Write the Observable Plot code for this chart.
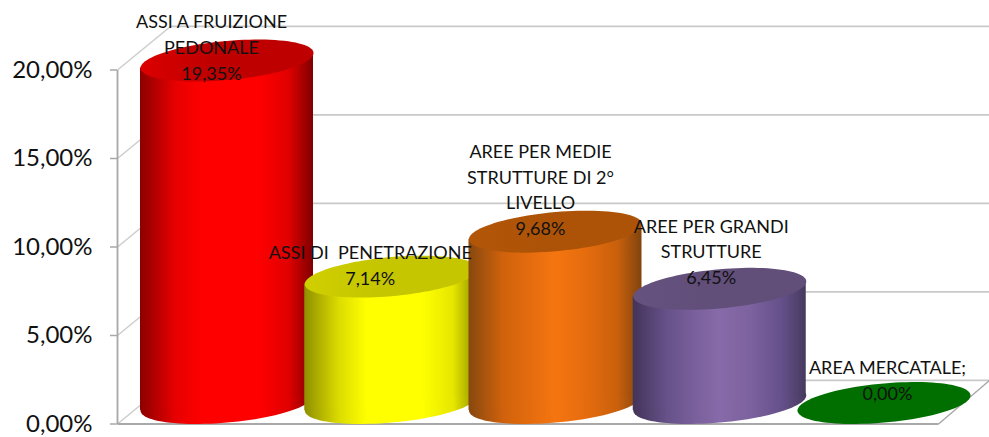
<!DOCTYPE html>
<html><head><meta charset="utf-8">
<style>html,body{margin:0;padding:0;background:#fff}svg{display:block}</style>
<script src="https://cdn.jsdelivr.net/npm/d3@7"></script>
<script src="https://cdn.jsdelivr.net/npm/@observablehq/plot@0.6"></script>
</head><body><div id="chart"></div>
<script>
// Data
const categories = ["ASSI A FRUIZIONE\nPEDONALE", "ASSI DI  PENETRAZIONE", "AREE PER MEDIE\nSTRUTTURE DI 2°\nLIVELLO", "AREE PER GRANDI\nSTRUTTURE", "AREA MERCATALE;"];
const values = [19.35, 7.14, 9.68, 6.45, 0];
const valueLabels = ["19,35%", "7,14%", "9,68%", "6,45%", "0,00%"];
const tickValues = [0, 5, 10, 15, 20];

// Styles
const bodyStops = [
  ["#8c0000", "#e60000", "#ff0000", "#ff0000", "#ff0000", "#e00000", "#7e0000"],
  ["#8f8f00", "#dcdc00", "#ffff00", "#ffff00", "#ffff00", "#e6e600", "#8f8f00"],
  ["#87480f", "#d0620c", "#e56c0e", "#f57510", "#e56c0e", "#c9600c", "#80440e"],
  ["#433459", "#67528a", "#7a609c", "#876aa9", "#7c629e", "#65508a", "#463a5e"],
  ["#006f00", "#006f00", "#006f00", "#006f00", "#006f00", "#006f00", "#006f00"]
];
const capColors = [["#dc0000", "#bf0000"], ["#cfcf00", "#c6c600"], ["#b35608", "#ad5307"], ["#66527f", "#614e79"], ["#006f00", "#006f00"]];
const stopOffsets = [0, 0.2, 0.36, 0.5, 0.68, 0.86, 1];
const labelDx = [-15.5, -21, -15, -8.5, 3.5];
const labelDy = [19, 8, 3, -5, -3];

// Layout (in scale units)
const halfWidth = 86.5 / 164.25;   // cylinder half width, x units
const tilt = 7.5 / 17.7;           // ellipse tilt expressed in y units
const baseLift = -21;              // pixels: centre of base ellipse above the front floor edge
const frontX = -0.6667, backX = -0.344, floorFrontEnd = 4.332, floorBackEnd = 4.642, depthY = 2.46;

const ellipse = {
  draw(ctx, size) {
    const rx = Math.sqrt(size / Math.PI), b = rx * 19.6 / 86.5, s = rx * 7.5 / 86.5;
    for (let i = 0; i < 96; ++i) {
      const t = i / 96 * 2 * Math.PI;
      const x = rx * Math.cos(t), y = -s * Math.cos(t) + b * Math.sin(t);
      if (i) ctx.lineTo(x, y); else ctx.moveTo(x, y);
    }
    ctx.closePath();
  }
};

const defsMark = () => {
  const defs = d3.create("svg:defs");
  bodyStops.forEach((stops, i) => {
    const g = defs.append("linearGradient").attr("id", "body" + i);
    stops.forEach((c, j) => g.append("stop").attr("offset", stopOffsets[j]).attr("stop-color", c));
    const k = defs.append("linearGradient").attr("id", "cap" + i);
    capColors[i].forEach((c, j) => k.append("stop").attr("offset", j ? 0.4 : 0).attr("stop-color", c));
  });
  return defs.node();
};

const grid = "#c9c9c9", axisGrey = "#a8a8a8";
const cylinder = (v, i) => {
  const fill = `url(#body${i})`;
  const marks = [];
  if (v > 0) {
    marks.push(Plot.dot([0], {x: () => i, y: () => 0, r: 86.5, symbol: ellipse, fill, dy: baseLift}));
    marks.push(Plot.areaY([[i - halfWidth, -tilt, v - 0 - tilt], [i + halfWidth, tilt, v + tilt]], {
      x: d => d[0], y1: d => d[1], y2: d => d[2], fill, dy: baseLift, curve: "linear"
    }));
  }
  marks.push(Plot.dot([0], {x: () => i, y: () => v, r: 86.5, symbol: ellipse, fill: `url(#cap${i})`, dy: baseLift}));
  return marks;
};

const chart = Plot.plot({
  width: 989, height: 437,
  marginLeft: 117, marginRight: 0, marginTop: 0, marginBottom: 0,
  style: {fontFamily: "Lato, Carlito, sans-serif", background: "#fff", overflow: "hidden"},
  x: {type: "linear", domain: [0, 4], range: [226.5, 883.5], axis: null},
  y: {type: "linear", domain: [0, 20], range: [423.5, 69.5], axis: null},
  marks: [
    defsMark,
    // back wall gridlines
    Plot.link(tickValues.slice(1), {x1: backX, x2: floorBackEnd, y1: d => d + depthY, y2: d => d + depthY, stroke: grid, strokeWidth: 1.8}),
    // side wall diagonals
    Plot.link(tickValues, {x1: frontX, x2: backX, y1: d => d, y2: d => d + depthY, stroke: "#cdcdcd", strokeWidth: 1.5}),
    // floor
    Plot.link([0], {x1: backX, x2: floorBackEnd, y1: depthY, y2: depthY, stroke: grid, strokeWidth: 1.8}),
    Plot.link([0], {x1: floorFrontEnd, x2: floorBackEnd, y1: 0, y2: depthY, stroke: axisGrey, strokeWidth: 1.5}),
    Plot.link([0], {x1: frontX, x2: floorFrontEnd, y1: 0, y2: 0, stroke: axisGrey, strokeWidth: 1.8}),
    // front axis
    Plot.link([0], {x1: frontX, x2: frontX, y1: 0, y2: 20, stroke: axisGrey, strokeWidth: 1.8}),
    Plot.axisY({
      ticks: tickValues, anchor: "left", tickSize: 7, tickPadding: 18, stroke: axisGrey, strokeWidth: 1.5,
      fill: "#111", fontSize: 24, label: null,
      tickFormat: d => d3.format(".2f")(d).replace(".", ",") + "%"
    }),
    ...values.flatMap(cylinder),
    ...values.map((v, i) => Plot.text([`${categories[i]}\n${valueLabels[i]}`], {
      x: () => i, y: () => v, text: d => d, textAnchor: "middle", lineAnchor: "bottom",
      fontSize: 18, lineHeight: 1.42, fill: "#111", dx: labelDx[i], dy: baseLift + labelDy[i]
    }))
  ]
});
document.getElementById("chart").append(chart);
</script></body></html>
